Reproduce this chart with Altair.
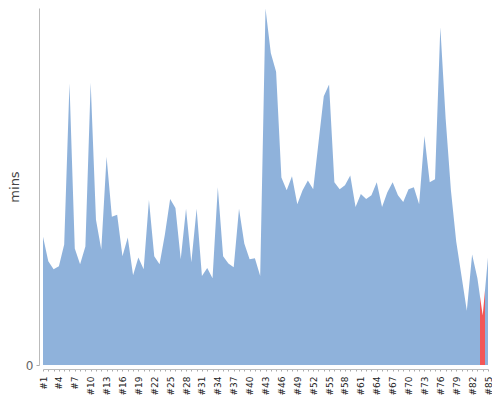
import altair as alt
import pandas as pd

runs = list(range(1, 86))
labels = [f"#{i}" for i in runs]
mins = [43.3, 35.0, 32.3, 33.3, 40.7, 95.0, 39.3, 34.0, 40.0, 95.3,
        49.0, 39.0, 70.3, 50.0, 50.7, 36.7, 43.0, 30.3, 36.3, 32.3,
        55.7, 36.7, 34.0, 44.0, 56.0, 53.0, 35.7, 52.7, 34.7, 52.7,
        30.0, 32.7, 29.3, 60.0, 36.7, 34.3, 33.0, 52.7, 41.0, 35.7,
        36.0, 30.0, 120.3, 105.3, 99.0, 63.3, 59.0, 63.7, 54.3, 59.0,
        62.3, 59.3, 75.0, 90.7, 94.7, 61.7, 59.3, 60.7, 64.0, 53.3,
        57.7, 56.0, 57.3, 61.7, 53.3, 58.3, 61.7, 57.3, 55.0, 59.3,
        60.0, 54.3, 77.3, 61.7, 62.7, 114.0, 83.3, 59.0, 41.7, 30.0,
        18.3, 37.3, 29.3, 16.7, 36.3]
highlight = 84

blue = "#8fb2db"
red = "#f25757"

df = pd.DataFrame({"run": runs, "label": labels, "mins": mins})

lo = (highlight - 0.5 - runs[0]) / (runs[-1] - runs[0])
hi = (highlight + 0.5 - runs[0]) / (runs[-1] - runs[0])
grad = alt.LinearGradient(
    gradient="linear", x1=0, y1=0, x2=1, y2=0,
    stops=[
        alt.GradientStop(offset=0, color=blue),
        alt.GradientStop(offset=lo, color=blue),
        alt.GradientStop(offset=lo, color=red),
        alt.GradientStop(offset=hi, color=red),
        alt.GradientStop(offset=hi, color=blue),
        alt.GradientStop(offset=1, color=blue),
    ],
)

chart = alt.Chart(df).mark_area(color=grad, interpolate="linear").encode(
    x=alt.X("run:Q", title=None,
            scale=alt.Scale(domain=[runs[0], runs[-1]], nice=False, zero=False),
            axis=alt.Axis(values=runs, labelExpr="(datum.value - 1) % 3 == 0 ? '#' + datum.value : ''",
                          labelAngle=-90, labelOverlap=False, labelFontSize=9,
                          labelFont="DejaVu Sans", labelColor="#222", labelPadding=5,
                          tickSize=2, tickColor="#aaa", domainColor="#bbb", offset=4,
                          grid=False)),
    y=alt.Y("mins:Q", title="mins",
            scale=alt.Scale(domain=[0, 120.5], nice=False),
            axis=alt.Axis(values=[0], tickSize=3, tickColor="#aaa", domainColor="#bbb",
                          labelColor="#666", labelFontSize=12, labelFont="DejaVu Sans",
                          labelPadding=3, offset=4, grid=False,
                          titleFont="DejaVu Sans", titleFontSize=13, titleFontWeight="normal",
                          titleColor="#444", titlePadding=4)),
).properties(
    width=445, height=357,
    autosize=alt.AutoSizeParams(type="none"),
    padding={"left": 35, "top": 0, "right": 4, "bottom": 34},
).configure_view(stroke=None)

chart.save("out.html", embed_options={"renderer": "svg", "actions": False})
